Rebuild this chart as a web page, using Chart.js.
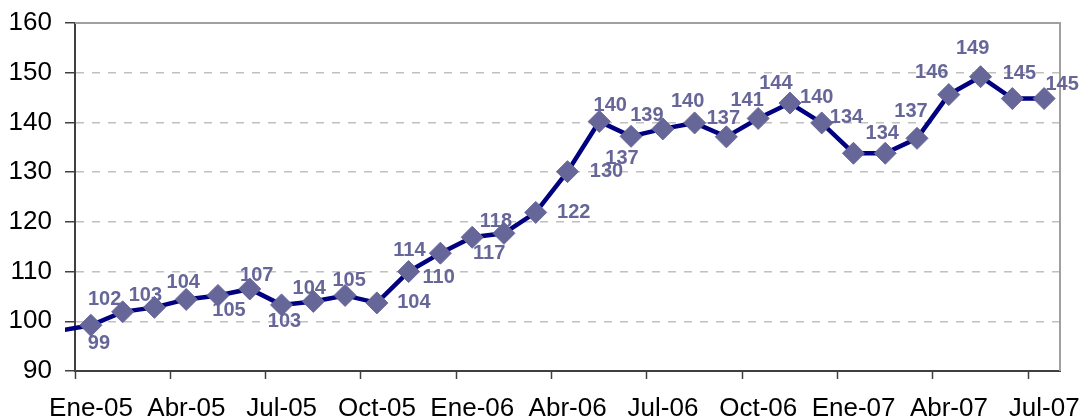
<!DOCTYPE html>
<html>
<head>
<meta charset="utf-8">
<script src="https://cdn.jsdelivr.net/npm/chart.js@4.4.0/dist/chart.umd.min.js"></script>
<style>
  html, body { margin: 0; padding: 0; background: #ffffff; }
  #wrap { width: 1084px; height: 418px; }
</style>
</head>
<body>
<div id="wrap"><canvas id="grafico"></canvas></div>
<script>
// Meses (un punto por mes, de Ene-05 a Jul-07)
const meses = [
    'Ene-05', 'Feb-05', 'Mar-05', 'Abr-05', 'May-05', 'Jun-05', 'Jul-05', 'Ago-05', 'Sep-05', 'Oct-05', 'Nov-05', 'Dic-05',
    'Ene-06', 'Feb-06', 'Mar-06', 'Abr-06', 'May-06', 'Jun-06', 'Jul-06', 'Ago-06', 'Sep-06', 'Oct-06', 'Nov-06', 'Dic-06',
    'Ene-07', 'Feb-07', 'Mar-07', 'Abr-07', 'May-07', 'Jun-07', 'Jul-07'
];

// Valores
const valores = [
    99.2, 101.9, 102.8, 104.4, 105.2, 106.5, 103.3, 104.0, 105.2, 103.7, 110.0, 113.7,
    116.9, 117.7, 121.9, 130.1, 140.2, 137.2, 138.7, 139.9, 137.1, 140.8, 143.9, 139.9,
    133.8, 133.8, 136.8, 145.6, 149.2, 144.8, 144.8
];

// Valor del mes anterior (Dic-04), solo se ve el tramo de línea que entra por la izquierda
const valorAnterior = 98.1;

// Marcas del eje Y
const marcasY = [90, 100, 110, 120, 130, 140, 150, 160];

// Desplazamiento de cada etiqueta respecto a su punto (dx, dy en px)
const posEtiquetas = [
    [8, 18], [-18, -12], [-9, -12], [-3, -17], [11, 15], [7, -13], [3, 17], [-4, -13], [4, -15], [37, 0],
    [30, 6], [-31, -3], [17, 16], [-8, -12], [38, 0], [39, 0], [11, -16], [-9, 22], [-16, -13], [-7, -21],
    [-3, -18], [-11, -18], [-14, -20], [-5, -25], [-7, -36], [-3, -20], [-6, -27], [-17, -22], [-8, -28],
    [7, -25], [18, -14]
];

const puntos = [{ x: -1, y: valorAnterior }].concat(valores.map((v, i) => ({ x: i, y: v })));
const radios = puntos.map((p, i) => (i === 0 ? 0 : 11));

// Etiquetas de datos
const etiquetasPlugin = {
    id: 'etiquetas',
    afterDatasetsDraw(chart) {
        const meta = chart.getDatasetMeta(0);
        const ctx = chart.ctx;
        ctx.save();
        ctx.font = 'bold 20px "Liberation Sans", Arial, sans-serif';
        ctx.fillStyle = '#666699';
        ctx.textAlign = 'center';
        ctx.textBaseline = 'middle';
        valores.forEach((v, i) => {
            const el = meta.data[i + 1];
            const off = posEtiquetas[i];
            ctx.fillText(String(Math.round(v)), el.x + off[0], el.y + off[1]);
        });
        ctx.restore();
    }
};

// Borde gris superior y derecho del área del gráfico
const bordePlugin = {
    id: 'borde',
    beforeDatasetsDraw(chart) {
        const a = chart.chartArea;
        const ctx = chart.ctx;
        ctx.save();
        ctx.strokeStyle = '#a0a0a0';
        ctx.lineWidth = 2;
        ctx.beginPath();
        ctx.moveTo(a.left, a.top);
        ctx.lineTo(a.right, a.top);
        ctx.lineTo(a.right, a.bottom);
        ctx.stroke();
        ctx.restore();
    }
};

const ctx = document.getElementById('grafico').getContext('2d');

new Chart(ctx, {
    type: 'line',
    data: {
        datasets: [
            {
                label: 'Índice',
                data: puntos,
                borderColor: '#000080',
                borderWidth: 4.5,
                pointStyle: 'rectRot',
                pointRadius: radios,
                pointHoverRadius: radios,
                pointBackgroundColor: '#666699',
                pointBorderColor: '#666699',
                pointBorderWidth: 1,
                tension: 0,
                clip: { left: 10, top: false, right: false, bottom: false },
            },
        ],
    },
    options: {
        responsive: true,
        maintainAspectRatio: false,
        animation: false,
        events: [],
        layout: {
            padding: { left: 10, right: 24, top: 23, bottom: 0 },
        },
        scales: {
            x: {
                type: 'linear',
                min: -0.5,
                max: 30.5,
                afterBuildTicks: (scale) => {
                    const t = [];
                    for (let i = 0; i < meses.length; i += 3) t.push({ value: i - 0.5 });
                    scale.ticks = t;
                },
                afterFit: (scale) => { scale.height = 47; },
                ticks: {
                    autoSkip: false,
                    maxRotation: 0,
                    labelOffset: 16,
                    padding: 14,
                    color: '#000000',
                    font: { family: '"Liberation Sans", Arial, sans-serif', size: 26 },
                    callback: (value) => meses[Math.round(value + 0.5)],
                },
                grid: {
                    drawOnChartArea: false,
                    tickLength: 8,
                    tickColor: '#404040',
                    tickWidth: 1.5,
                },
                border: { color: '#404040', width: 2 },
            },
            y: {
                min: 90,
                max: 160,
                afterBuildTicks: (scale) => {
                    scale.ticks = marcasY.map((v) => ({ value: v }));
                },
                afterFit: (scale) => {
                    scale.width = 65;
                    scale.paddingTop = 0;
                    scale.paddingBottom = 0;
                },
                ticks: {
                    padding: 13,
                    color: '#000000',
                    font: { family: '"Liberation Sans", Arial, sans-serif', size: 26 },
                },
                grid: {
                    color: '#c0c0c0',
                    lineWidth: 1.5,
                    tickLength: 10,
                    tickColor: '#404040',
                    tickWidth: 1.5,
                    tickBorderDash: [],
                },
                border: { color: '#404040', width: 2, dash: [8, 8] },
            },
        },
        plugins: {
            legend: { display: false },
            tooltip: { enabled: false },
        },
    },
    plugins: [bordePlugin, etiquetasPlugin],
});
</script>
</body>
</html>
